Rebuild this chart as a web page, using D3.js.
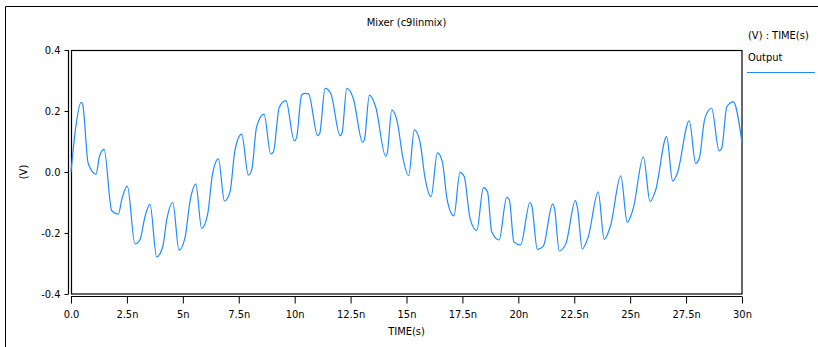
<!DOCTYPE html>
<html>
<head>
<meta charset="utf-8">
<script src="https://cdn.jsdelivr.net/npm/d3@7"></script>
<style>
  body { margin: 0; background: #fff; }
  svg { display: block; }
  text { font-family: "Liberation Sans Narrow", "DejaVu Sans Condensed", "Liberation Sans", sans-serif; font-size: 11px; fill: #000; }
</style>
</head>
<body>
<div id="chart"></div>
<script>
// time in ns, voltage in V
const timeNs = [
  0.00, 0.20, 0.45, 0.52, 0.77, 1.12, 1.27, 1.48, 1.82, 2.12, 2.27, 2.52,
  2.86, 3.08, 3.31, 3.53, 3.83, 4.10, 4.28, 4.55, 4.83, 5.10, 5.32, 5.58,
  5.84, 6.11, 6.32, 6.59, 6.86, 7.11, 7.33, 7.63, 7.93, 8.08, 8.30, 8.63,
  8.93, 9.05, 9.31, 9.61, 9.98, 10.08, 10.31, 10.45, 10.62, 11.03, 11.12, 11.36,
  11.62, 12.03, 12.12, 12.33, 12.62, 13.04, 13.12, 13.34, 13.62, 14.07, 14.14, 14.34,
  14.60, 14.83, 15.10, 15.35, 15.60, 15.83, 16.10, 16.38, 16.60, 16.82, 17.12, 17.39,
  17.58, 17.84, 18.14, 18.44, 18.62, 18.81, 19.14, 19.48, 19.60, 19.80, 20.10, 20.52,
  20.60, 20.85, 21.12, 21.53, 21.62, 21.83, 22.13, 22.55, 22.65, 22.86, 23.13, 23.57,
  23.84, 24.13, 24.58, 24.87, 25.14, 25.59, 25.89, 26.14, 26.63, 26.90, 27.11, 27.64,
  27.93, 28.09, 28.34, 28.64, 28.98, 29.10, 29.32, 29.61, 30.00
];
const outputV = [
  0.000, 0.140, 0.228, 0.222, 0.028, -0.007, 0.050, 0.074, -0.127, -0.138, -0.090, -0.046,
  -0.236, -0.223, -0.146, -0.105, -0.278, -0.245, -0.157, -0.100, -0.256, -0.214, -0.097, -0.040,
  -0.185, -0.138, -0.010, 0.043, -0.095, -0.065, 0.072, 0.124, -0.010, 0.007, 0.149, 0.190,
  0.059, 0.066, 0.212, 0.234, 0.102, 0.111, 0.252, 0.258, 0.256, 0.119, 0.126, 0.274,
  0.256, 0.119, 0.128, 0.274, 0.242, 0.097, 0.106, 0.252, 0.214, 0.052, 0.062, 0.203,
  0.160, 0.050, -0.012, 0.138, 0.100, -0.020, -0.081, 0.063, 0.034, -0.092, -0.144, -0.001,
  -0.015, -0.152, -0.192, -0.051, -0.064, -0.196, -0.223, -0.083, -0.092, -0.229, -0.239, -0.100,
  -0.110, -0.254, -0.243, -0.105, -0.120, -0.259, -0.234, -0.094, -0.120, -0.252, -0.212, -0.065,
  -0.221, -0.174, -0.013, -0.165, -0.119, 0.050, -0.097, -0.059, 0.116, -0.030, -0.004, 0.168,
  0.028, 0.045, 0.176, 0.209, 0.069, 0.080, 0.214, 0.230, 0.096
];
const xTicks = [0, 2.5, 5, 7.5, 10, 12.5, 15, 17.5, 20, 22.5, 25, 27.5, 30];
const xTickLabels = ["0.0", "2.5n", "5n", "7.5n", "10n", "12.5n", "15n", "17.5n", "20n", "22.5n", "25n", "27.5n", "30n"];
const yTicks = [-0.4, -0.2, 0.0, 0.2, 0.4];
const yTickLabels = ["-0.4", "-0.2", "0.0", "0.2", "0.4"];

const width = 818, height = 347;
const plot = { left: 71, right: 742, top: 50, bottom: 294 };

const svg = d3.select('#chart').append('svg')
    .attr('width', width)
    .attr('height', height);

// outer frame (only top and left edges visible)
svg.append('path')
    .attr('d', `M5.5,${height} V6.5 H${width}`)
    .attr('fill', 'none')
    .attr('stroke', '#000')
    .attr('stroke-width', 1);

const x = d3.scaleLinear().domain([0, 30]).range([plot.left, plot.right]);
const y = d3.scaleLinear().domain([-0.4, 0.4]).range([plot.bottom, plot.top]);

// plot box
svg.append('rect')
    .attr('x', plot.left + 0.5)
    .attr('y', plot.top + 0.5)
    .attr('width', plot.right - plot.left - 0.5)
    .attr('height', plot.bottom - plot.top - 0.5)
    .attr('fill', 'none')
    .attr('stroke', '#000')
    .attr('stroke-width', 1.2);

// y axis, offset to the left of the box
const yAxis = d3.axisLeft(y)
    .tickValues(yTicks)
    .tickFormat((d, i) => yTickLabels[i])
    .tickSize(4)
    .tickPadding(4);
const yAxisG = svg.append('g')
    .attr('transform', `translate(68.5,0)`)
    .call(yAxis);

// x axis, offset below the box
const xAxis = d3.axisBottom(x)
    .tickValues(xTicks)
    .tickFormat((d, i) => xTickLabels[i])
    .tickSize(7)
    .tickPadding(7);
const xAxisG = svg.append('g')
    .attr('transform', `translate(0,296.5)`)
    .call(xAxis);

[yAxisG, xAxisG].forEach(g => {
    g.selectAll('path.domain').attr('stroke', '#000').attr('stroke-width', 1.2);
    g.selectAll('.tick line').attr('stroke', '#000');
    g.selectAll('text').attr('font-size', 11).attr('font-family', null);
});
// keep the y domain line inside the data range (no outer ticks)
yAxisG.select('path.domain').attr('d', `M0,${plot.top}V${plot.bottom}`);
xAxisG.select('path.domain').attr('d', `M${plot.left},0H${plot.right}`);

// trace
const data = timeNs.map((t, i) => ({ t, v: outputV[i] }));
const line = d3.line()
    .x(d => x(d.t))
    .y(d => y(d.v))
    .curve(d3.curveMonotoneX);

svg.append('path')
    .datum(data)
    .attr('d', line)
    .attr('fill', 'none')
    .attr('stroke', '#1e8cff')
    .attr('stroke-width', 1.2);

// titles
svg.append('text')
    .attr('x', (plot.left + plot.right) / 2)
    .attr('y', 26)
    .attr('text-anchor', 'middle')
    .text('Mixer (c9linmix)');

svg.append('text')
    .attr('x', (plot.left + plot.right) / 2)
    .attr('y', 335)
    .attr('text-anchor', 'middle')
    .text('TIME(s)');

svg.append('text')
    .attr('transform', 'translate(27,172) rotate(-90)')
    .attr('text-anchor', 'middle')
    .text('(V)');

// legend
svg.append('text').attr('x', 748).attr('y', 39).text('(V) : TIME(s)');
svg.append('text').attr('x', 748).attr('y', 61).text('Output');
svg.append('line')
    .attr('x1', 747).attr('x2', 815)
    .attr('y1', 72.5).attr('y2', 72.5)
    .attr('stroke', '#1e8cff')
    .attr('stroke-width', 1.2);
</script>
</body>
</html>
